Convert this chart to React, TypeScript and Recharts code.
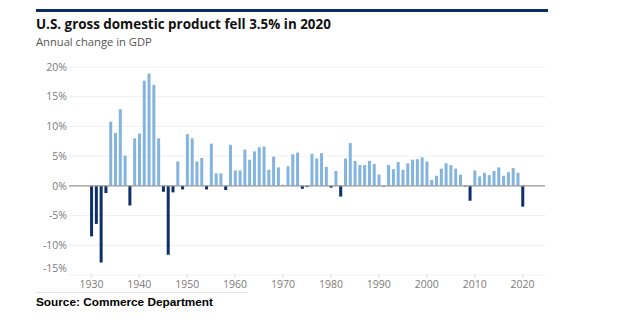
import React from "react";
import { Bar, BarChart, CartesianGrid, Cell, ReferenceLine, XAxis, YAxis } from "recharts";

const years = Array.from({ length: 91 }, (_, i) => 1930 + i);

// Annual change in real GDP, %
const gdpChange = [
  -8.5, -6.4, -12.9, -1.2, 10.8, 8.9, 12.9, 5.1, -3.3, 8.0,
  8.8, 17.7, 18.9, 17.0, 8.0, -1.0, -11.6, -1.1, 4.1, -0.6,
  8.7, 8.0, 4.1, 4.7, -0.6, 7.1, 2.1, 2.1, -0.7, 6.9,
  2.6, 2.6, 6.1, 4.4, 5.8, 6.5, 6.6, 2.7, 4.9, 3.1,
  0.2, 3.3, 5.3, 5.6, -0.5, -0.2, 5.4, 4.6, 5.5, 3.2,
  -0.3, 2.5, -1.8, 4.6, 7.2, 4.2, 3.5, 3.5, 4.2, 3.7,
  1.9, -0.1, 3.5, 2.8, 4.0, 2.7, 3.8, 4.4, 4.5, 4.8,
  4.1, 1.0, 1.7, 2.9, 3.8, 3.5, 2.9, 1.9, -0.1, -2.5,
  2.6, 1.6, 2.2, 1.8, 2.5, 3.1, 1.7, 2.3, 3.0, 2.2,
  -3.5,
];

const yTicks = [-15, -10, -5, 0, 5, 10, 15, 20];

const data = years.map((year, i) => ({ year, value: gdpChange[i] }));

const POS = "#83b4df";
const NEG = "#0f2f6b";
const FONT = "'Open Sans', 'Liberation Sans', sans-serif";

function YTick(props: any) {
  const { x, y, payload } = props;
  // the lowest label sits a little above its gridline
  const shift = payload.value === -15 ? -7 : 0;
  return (
    <text x={x} y={y + shift} dy="0.35em" textAnchor="end" fill="#7a7a7a" fontSize={10.5} fontFamily={FONT}>
      {payload.value}%
    </text>
  );
}

export default function App() {
  return (
    <div style={{ position: "absolute", left: 0, top: 0, width: 621, height: 323, background: "#fff", fontFamily: FONT }}>
      <div style={{ position: "absolute", left: 36, top: 9, width: 512, height: 3, background: "#0d2c63" }} />
      <div style={{ position: "absolute", left: 36, top: 17, fontSize: 13.4, lineHeight: "14px", fontWeight: 700, color: "#111", whiteSpace: "nowrap" }}>
        U.S. gross domestic product fell 3.5% in 2020
      </div>
      <div style={{ position: "absolute", left: 36, top: 35.5, fontSize: 11.2, lineHeight: "12px", color: "#555", whiteSpace: "nowrap" }}>
        Annual change in GDP
      </div>

      <BarChart
        width={621}
        height={323}
        data={data}
        margin={{ top: 67, right: 76, bottom: 18, left: 19 }}
        barCategoryGap="22%"
        style={{ position: "absolute", left: 0, top: 0 }}
      >
        <CartesianGrid vertical={false} stroke="#efefef" />
        <XAxis
          dataKey="year"
          interval={9}
          height={30}
          padding={{ left: 20, right: 20 }}
          axisLine={false}
          tickSize={3}
          tickMargin={3}
          tickLine={{ stroke: "#dddddd" }}
          tick={{ fill: "#7a7a7a", fontSize: 10.5, fontFamily: FONT }}
        />
        <YAxis
          type="number"
          domain={[-15, 20]}
          ticks={yTicks}
          width={50}
          axisLine={false}
          tickLine={false}
          tickSize={2}
          tickMargin={0}
          tick={<YTick />}
        />
        <ReferenceLine y={0} stroke="#9a9a9a" strokeWidth={1.2} />
        <Bar dataKey="value" isAnimationActive={false}>
          {data.map((d) => (
            <Cell key={d.year} fill={d.value < 0 ? NEG : POS} />
          ))}
        </Bar>
      </BarChart>

      <div style={{ position: "absolute", left: 36, top: 292, width: 212, height: 1, background: "#e6e6e6" }} />
      <div style={{ position: "absolute", left: 36, top: 295, fontSize: 11.8, lineHeight: "14px", fontWeight: 700, color: "#000", fontFamily: "'Liberation Sans', Arial, sans-serif", whiteSpace: "nowrap" }}>
        Source: Commerce Department
      </div>
    </div>
  );
}
